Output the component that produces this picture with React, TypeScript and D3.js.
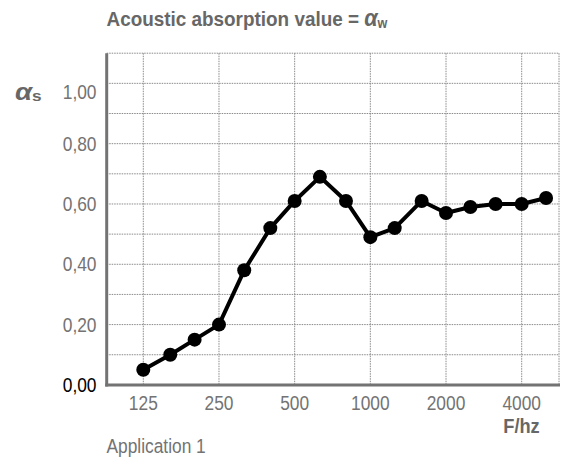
import React from "react";
import * as d3 from "d3";

const frequencies = [125, 160, 200, 250, 315, 400, 500, 630, 800, 1000, 1250, 1600, 2000, 2500, 3150, 4000, 5000];
const absorption = [0.05, 0.10, 0.15, 0.20, 0.38, 0.52, 0.61, 0.69, 0.61, 0.49, 0.52, 0.61, 0.57, 0.59, 0.60, 0.60, 0.62];
const xTicks = [125, 250, 500, 1000, 2000, 4000];
const yTickValues = [0, 0.2, 0.4, 0.6, 0.8, 1.0];
const yTickLabels = ["0,00", "0,20", "0,40", "0,60", "0,80", "1,00"];
const yGrid = [0.1, 0.2, 0.3, 0.4, 0.5, 0.6, 0.7, 0.8, 0.9, 1.0];

const W = 565;
const H = 459;
const left = 106.7;
const right = 559;
const top = 53.2;
const bottom = 384.9;
const FONT = "'Liberation Sans', Arial, 'Helvetica', sans-serif";
const GRAY = "#737373";
const DARK = "#676767";
const SX = 0.89;

function CText(props: any) {
  const { x, y, sx = SX, children, ...rest } = props;
  return (
    <text transform={`translate(${x},${y}) scale(${sx},1)`} {...rest}>
      {children}
    </text>
  );
}

export default function App() {
  const x = d3.scaleLog().domain([125, 4000]).range([143.3, 521.7]);
  const y = d3.scaleLinear().domain([0, 1.1]).range([bottom, top]);
  const line = d3
    .line<number>()
    .x((_, i) => x(frequencies[i]))
    .y((d) => y(d));

  return (
    <svg
      width={W}
      height={H}
      style={{ position: "absolute", left: 0, top: 0, background: "#fff" }}
      fontFamily={FONT}
    >
      <CText x={106.5} y={26} fontSize={21} fontWeight="bold" fill={DARK} sx={0.9}>
        Acoustic absorption value = <tspan fontStyle="italic" fontSize={24}>α</tspan>
        <tspan fontSize={14} dy={2}>w</tspan>
      </CText>

      {/* grid */}
      {yGrid.map((v) => (
        <line key={"gy" + v} x1={left} x2={right} y1={y(v)} y2={y(v)} stroke="#8a8a8a" strokeWidth={1} strokeDasharray="1.5,1" />
      ))}
      {xTicks.map((t) => (
        <line key={"gx" + t} x1={x(t)} x2={x(t)} y1={top} y2={bottom} stroke="#8a8a8a" strokeWidth={1} strokeDasharray="1.5,1" />
      ))}
      <line x1={left} x2={right} y1={top} y2={top} stroke="#8a8a8a" strokeWidth={1} strokeDasharray="1.5,1" />
      <line x1={right} x2={right} y1={top} y2={bottom} stroke="#8a8a8a" strokeWidth={1} strokeDasharray="1.5,1" />

      {/* axes */}
      <line x1={left} x2={left} y1={top} y2={bottom + 1.5} stroke={GRAY} strokeWidth={3} />
      <line x1={left - 1.5} x2={right + 1} y1={bottom} y2={bottom} stroke={GRAY} strokeWidth={3} />

      {/* y labels (top label sits slightly below its gridline, as in the original) */}
      {yTickValues.map((v, i) => (
        <CText
          key={yTickLabels[i]}
          x={96.5}
          y={y(v) + 7 + (i === yTickValues.length - 1 ? 9 : 0)}
          fontSize={19.5}
          textAnchor="end"
          fill={v === 0 ? "#000" : GRAY}
        >
          {yTickLabels[i]}
        </CText>
      ))}
      <CText x={15} y={100} fontSize={24} fontWeight="bold" fill={DARK} sx={1.15}>
        <tspan fontStyle="italic">α</tspan>
        <tspan fontSize={15} dy={1}>s</tspan>
      </CText>

      {/* x labels */}
      {xTicks.map((t) => (
        <CText key={"xl" + t} x={x(t)} y={409.5} fontSize={19.5} textAnchor="middle" fill={GRAY}>
          {t}
        </CText>
      ))}
      <CText x={521.5} y={432.7} fontSize={20.5} fontWeight="bold" textAnchor="middle" fill={DARK}>
        F/hz
      </CText>

      <CText x={106.5} y={453} fontSize={19.5} fill={GRAY}>
        Application 1
      </CText>

      {/* data */}
      <path d={line(absorption) || ""} fill="none" stroke="#000" strokeWidth={4} strokeLinejoin="round" />
      {absorption.map((v, i) => (
        <circle key={"p" + i} cx={x(frequencies[i])} cy={y(v)} r={7} fill="#000" />
      ))}
    </svg>
  );
}
